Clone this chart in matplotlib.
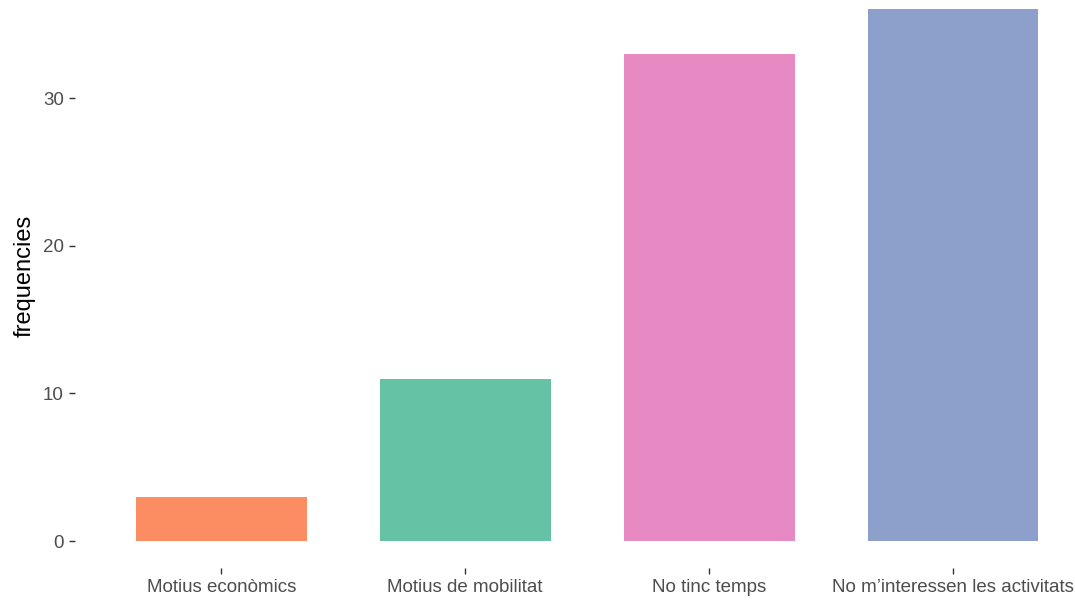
import matplotlib.pyplot as plt

plt.rcParams['font.family'] = ['Liberation Sans', 'DejaVu Sans']

# data
categories = ['Motius econòmics', 'Motius de mobilitat', 'No tinc temps', 'No m\u2019interessen les activitats']
frequencies = [3, 11, 33, 36]
colors = ['#FC8D62', '#66C2A5', '#E78AC3', '#8DA0CB']
y_ticks = [0, 10, 20, 30]

W, H = 1075, 600
fig = plt.figure(figsize=(W / 100, H / 100), dpi=100)
left, right = 75 / W, 1075 / W
bottom, top = (H - 567.6) / H, 1.0
ax = fig.add_axes([left, bottom, right - left, top - bottom])

x = list(range(len(categories)))
ax.bar(x, frequencies, width=0.7, color=colors)

ax.set_xlim(-0.6, 3.5)
ax.set_ylim(-1.8, 36.64)
ax.set_xticks(x)
ax.set_xticklabels(categories)
ax.set_yticks(y_ticks)

for s in ax.spines.values():
    s.set_visible(False)

ax.tick_params(axis='both', length=4, width=1, color='#333333',
               labelcolor='#4D4D4D', labelsize=13.5, pad=4)
ax.set_ylabel('frequencies', fontsize=17, color='black')
# label centred on the full panel (which runs a bit above the crop)
ax.yaxis.set_label_coords(-0.039, 0.514)

plt.savefig('out.png', dpi=100)
